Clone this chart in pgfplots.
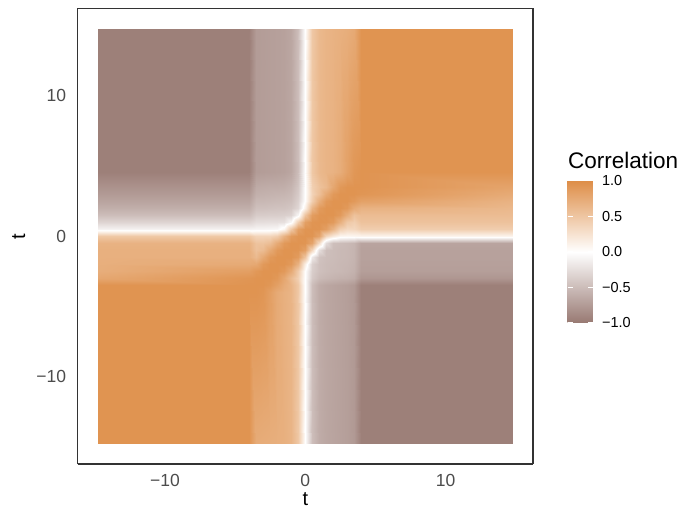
\documentclass[border=0pt]{standalone}
\usepackage{fontspec}
\setmainfont{Liberation Sans}
\usepackage{pgfplots}
\pgfplotsset{compat=1.18}
\begin{document}
\begin{tikzpicture}
\path[use as bounding box] (0,0) rectangle (683bp,512bp);
\begin{axis}[
  at={(77.7bp,48bp)}, anchor=south west,
  width=455.3bp, height=455.7bp, scale only axis,
  view={0}{90},
  xmin=-16.225, xmax=16.225, ymin=-16.225, ymax=16.225,
  axis line style={draw=black!80, line width=1.3bp},
  xtick={-10,0,10}, ytick={-10,0,10},
  xticklabels={−10,0,10}, yticklabels={−10,0,10},
  major tick length=0pt,
  tick label style={font=\fontsize{17.5bp}{20bp}\selectfont, text=black!70},
  xticklabel style={yshift=-7bp},
  yticklabel style={xshift=-8bp},
  colormap={corrmap}{rgb255=(152,121,114) rgb255=(255,255,255) rgb255=(222,142,72)},
  point meta min=-1, point meta max=1,
  colorbar,
  colorbar/width=25bp,
  colorbar style={
    at={(parent axis.south east)}, anchor=south west,
    xshift=26bp, yshift=141bp,
    height=142bp, scale only axis,
    axis on top,
    axis line style={draw=none},
    ytick={-1,-0.5,0,0.5,1},
    yticklabels={−1.0,−0.5,0.0,0.5,1.0},
    ytick pos=both, yticklabel pos=right,
    tick align=inside, major tick length=5bp,
    major tick style={draw=white, line width=1bp},
    yticklabel style={font=\fontsize{14.5bp}{17bp}\selectfont, text=black, xshift=6bp},
  },
]
\addplot3[surf, shader=interp, mesh/cols=19] coordinates {
(-14.75,-14.75,0.95) (-4,-14.75,0.95) (-3.5,-14.75,0.74) (-3,-14.75,0.73) (-2.5,-14.75,0.72) (-2,-14.75,0.71) (-1.5,-14.75,0.70) (-1,-14.75,0.66) (-0.5,-14.75,0.49) (0,-14.75,0) (0.5,-14.75,-0.49) (1,-14.75,-0.62) (1.5,-14.75,-0.66) (2,-14.75,-0.68) (2.5,-14.75,-0.70) (3,-14.75,-0.72) (3.5,-14.75,-0.76) (4,-14.75,-0.95) (14.75,-14.75,-0.95)
(-14.75,-4,0.95) (-4,-4,0.95) (-3.5,-4,0.95) (-3,-4,0.93) (-2.5,-4,0.85) (-2,-4,0.75) (-1.5,-4,0.70) (-1,-4,0.66) (-0.5,-4,0.49) (0,-4,0) (0.5,-4,-0.49) (1,-4,-0.62) (1.5,-4,-0.66) (2,-4,-0.68) (2.5,-4,-0.70) (3,-4,-0.72) (3.5,-4,-0.76) (4,-4,-0.95) (14.75,-4,-0.95)
(-14.75,-3.5,0.95) (-4,-3.5,0.95) (-3.5,-3.5,0.95) (-3,-3.5,0.95) (-2.5,-3.5,0.92) (-2,-3.5,0.84) (-1.5,-3.5,0.74) (-1,-3.5,0.66) (-0.5,-3.5,0.49) (0,-3.5,0) (0.5,-3.5,-0.49) (1,-3.5,-0.62) (1.5,-3.5,-0.66) (2,-3.5,-0.68) (2.5,-3.5,-0.70) (3,-3.5,-0.72) (3.5,-3.5,-0.76) (4,-3.5,-0.95) (14.75,-3.5,-0.95)
(-14.75,-3,0.78) (-4,-3,0.93) (-3.5,-3,0.95) (-3,-3,0.95) (-2.5,-3,0.95) (-2,-3,0.91) (-1.5,-3,0.78) (-1,-3,0.60) (-0.5,-3,0.41) (0,-3,0) (0.5,-3,-0.40) (1,-3,-0.51) (1.5,-3,-0.54) (2,-3,-0.56) (2.5,-3,-0.58) (3,-3,-0.59) (3.5,-3,-0.62) (4,-3,-0.78) (14.75,-3,-0.78)
(-14.75,-2.5,0.72) (-4,-2.5,0.85) (-3.5,-2.5,0.91) (-3,-2.5,0.95) (-2.5,-2.5,0.95) (-2,-2.5,0.95) (-1.5,-2.5,0.90) (-1,-2.5,0.75) (-0.5,-2.5,0.46) (0,-2.5,0.01) (0.5,-2.5,-0.37) (1,-2.5,-0.47) (1.5,-2.5,-0.50) (2,-2.5,-0.52) (2.5,-2.5,-0.53) (3,-2.5,-0.55) (3.5,-2.5,-0.58) (4,-2.5,-0.72) (14.75,-2.5,-0.72)
(-14.75,-2,0.71) (-4,-2,0.75) (-3.5,-2,0.77) (-3,-2,0.90) (-2.5,-2,0.95) (-2,-2,0.95) (-1.5,-2,0.95) (-1,-2,0.90) (-0.5,-2,0.68) (0,-2,0.14) (0.5,-2,-0.35) (1,-2,-0.47) (1.5,-2,-0.50) (2,-2,-0.51) (2.5,-2,-0.53) (3,-2,-0.54) (3.5,-2,-0.57) (4,-2,-0.71) (14.75,-2,-0.71)
(-14.75,-1.5,0.70) (-4,-1.5,0.70) (-3.5,-1.5,0.61) (-3,-1.5,0.76) (-2.5,-1.5,0.90) (-2,-1.5,0.95) (-1.5,-1.5,0.95) (-1,-1.5,0.95) (-0.5,-1.5,0.88) (0,-1.5,0.52) (0.5,-1.5,-0.17) (1,-1.5,-0.45) (1.5,-1.5,-0.49) (2,-1.5,-0.50) (2.5,-1.5,-0.52) (3,-1.5,-0.53) (3.5,-1.5,-0.56) (4,-1.5,-0.70) (14.75,-1.5,-0.70)
(-14.75,-1,0.70) (-4,-1,0.70) (-3.5,-1,0.55) (-3,-1,0.60) (-2.5,-1,0.76) (-2,-1,0.90) (-1.5,-1,0.95) (-1,-1,0.95) (-0.5,-1,0.94) (0,-1,0.84) (0.5,-1,0.35) (1,-1,-0.25) (1.5,-1,-0.48) (2,-1,-0.50) (2.5,-1,-0.52) (3,-1,-0.53) (3.5,-1,-0.56) (4,-1,-0.70) (14.75,-1,-0.70)
(-14.75,-0.5,0.68) (-4,-0.5,0.68) (-3.5,-0.5,0.53) (-3,-0.5,0.53) (-2.5,-0.5,0.58) (-2,-0.5,0.75) (-1.5,-0.5,0.90) (-1,-0.5,0.95) (-0.5,-0.5,0.95) (0,-0.5,0.94) (0.5,-0.5,0.80) (1,-0.5,0.31) (1.5,-0.5,-0.27) (2,-0.5,-0.48) (2.5,-0.5,-0.50) (3,-0.5,-0.52) (3.5,-0.5,-0.55) (4,-0.5,-0.68) (14.75,-0.5,-0.68)
(-14.75,0,0.49) (-4,0,0.49) (-3.5,0,0.38) (-3,0,0.38) (-2.5,0,0.38) (-2,0,0.45) (-1.5,0,0.68) (-1,0,0.88) (-0.5,0,0.94) (0,0,0.95) (0.5,0,0.94) (1,0,0.81) (1.5,0,0.36) (2,0,0.20) (2.5,0,0.08) (3,0,0.07) (3.5,0,0.08) (4,0,0.10) (14.75,0,0.10)
(-14.75,0.5,-0.10) (-4,0.5,-0.10) (-3.5,0.5,-0.08) (-3,0.5,-0.08) (-2.5,0.5,-0.07) (-2,0.5,-0.06) (-1.5,0.5,0.08) (-1,0.5,0.49) (-0.5,0.5,0.84) (0,0.5,0.94) (0.5,0.5,0.95) (1,0.5,0.94) (1.5,0.5,0.85) (2,0.5,0.66) (2.5,0.5,0.42) (3,0.5,0.34) (3.5,0.5,0.35) (4,0.5,0.44) (14.75,0.5,0.44)
(-14.75,1,-0.32) (-4,1,-0.32) (-3.5,1,-0.25) (-3,1,-0.25) (-2.5,1,-0.24) (-2,1,-0.24) (-1.5,1,-0.23) (-1,1,-0.05) (-0.5,1,0.44) (0,1,0.84) (0.5,1,0.94) (1,1,0.95) (1.5,1,0.94) (2,1,0.89) (2.5,1,0.70) (3,1,0.49) (3.5,1,0.43) (4,1,0.54) (14.75,1,0.54)
(-14.75,1.5,-0.49) (-4,1.5,-0.49) (-3.5,1.5,-0.38) (-3,1.5,-0.38) (-2.5,1.5,-0.37) (-2,1.5,-0.37) (-1.5,1.5,-0.36) (-1,1.5,-0.33) (-0.5,1.5,-0.07) (0,1.5,0.52) (0.5,1.5,0.87) (1,1.5,0.94) (1.5,1.5,0.95) (2,1.5,0.95) (2.5,1.5,0.89) (3,1.5,0.72) (3.5,1.5,0.54) (4,1.5,0.59) (14.75,1.5,0.59)
(-14.75,2,-0.60) (-4,2,-0.60) (-3.5,2,-0.47) (-3,2,-0.47) (-2.5,2,-0.46) (-2,2,-0.45) (-1.5,2,-0.45) (-1,2,-0.42) (-0.5,2,-0.30) (0,2,0.14) (0.5,2,0.66) (1,2,0.89) (1.5,2,0.95) (2,2,0.95) (2.5,2,0.95) (3,2,0.90) (3.5,2,0.75) (4,2,0.68) (14.75,2,0.63)
(-14.75,2.5,-0.68) (-4,2.5,-0.68) (-3.5,2.5,-0.53) (-3,2.5,-0.53) (-2.5,2.5,-0.52) (-2,2.5,-0.51) (-1.5,2.5,-0.50) (-1,2.5,-0.48) (-0.5,2.5,-0.35) (0,2.5,0.01) (0.5,2.5,0.44) (1,2.5,0.72) (1.5,2.5,0.90) (2,2.5,0.95) (2.5,2.5,0.95) (3,2.5,0.95) (3.5,2.5,0.90) (4,2.5,0.83) (14.75,2.5,0.68)
(-14.75,3,-0.75) (-4,3,-0.75) (-3.5,3,-0.59) (-3,3,-0.58) (-2.5,3,-0.57) (-2,3,-0.56) (-1.5,3,-0.55) (-1,3,-0.52) (-0.5,3,-0.39) (0,3,0) (0.5,3,0.39) (1,3,0.56) (1.5,3,0.76) (2,3,0.90) (2.5,3,0.95) (3,3,0.95) (3.5,3,0.95) (4,3,0.93) (14.75,3,0.75)
(-14.75,3.5,-0.81) (-4,3.5,-0.81) (-3.5,3.5,-0.63) (-3,3.5,-0.62) (-2.5,3.5,-0.61) (-2,3.5,-0.61) (-1.5,3.5,-0.60) (-1,3.5,-0.56) (-0.5,3.5,-0.42) (0,3.5,0) (0.5,3.5,0.42) (1,3.5,0.54) (1.5,3.5,0.62) (2,3.5,0.78) (2.5,3.5,0.91) (3,3.5,0.95) (3.5,3.5,0.95) (4,3.5,0.95) (14.75,3.5,0.81)
(-14.75,4.6,-0.95) (-4,4.6,-0.95) (-3.5,4.6,-0.74) (-3,4.6,-0.73) (-2.5,4.6,-0.72) (-2,4.6,-0.71) (-1.5,4.6,-0.70) (-1,4.6,-0.66) (-0.5,4.6,-0.49) (0,4.6,0) (0.5,4.6,0.49) (1,4.6,0.62) (1.5,4.6,0.66) (2,4.6,0.68) (2.5,4.6,0.73) (3,4.6,0.83) (3.5,4.6,0.92) (4,4.6,0.95) (14.75,4.6,0.95)
(-14.75,14.75,-0.95) (-4,14.75,-0.95) (-3.5,14.75,-0.74) (-3,14.75,-0.73) (-2.5,14.75,-0.72) (-2,14.75,-0.71) (-1.5,14.75,-0.70) (-1,14.75,-0.66) (-0.5,14.75,-0.49) (0,14.75,0) (0.5,14.75,0.49) (1,14.75,0.62) (1.5,14.75,0.66) (2,14.75,0.68) (2.5,14.75,0.70) (3,14.75,0.72) (3.5,14.75,0.76) (4,14.75,0.95) (14.75,14.75,0.95)
};
\end{axis}
\node[anchor=base west, font=\fontsize{22.5bp}{26bp}\selectfont, inner sep=0pt] at (568bp,343bp) {Correlation};
\node[anchor=base, font=\fontsize{20bp}{24bp}\selectfont, inner sep=0pt] at (305.5bp,7bp) {t};
\node[anchor=base, rotate=90, font=\fontsize{20bp}{24bp}\selectfont, inner sep=0pt] at (25bp,275bp) {t};
\end{tikzpicture}
\end{document}
